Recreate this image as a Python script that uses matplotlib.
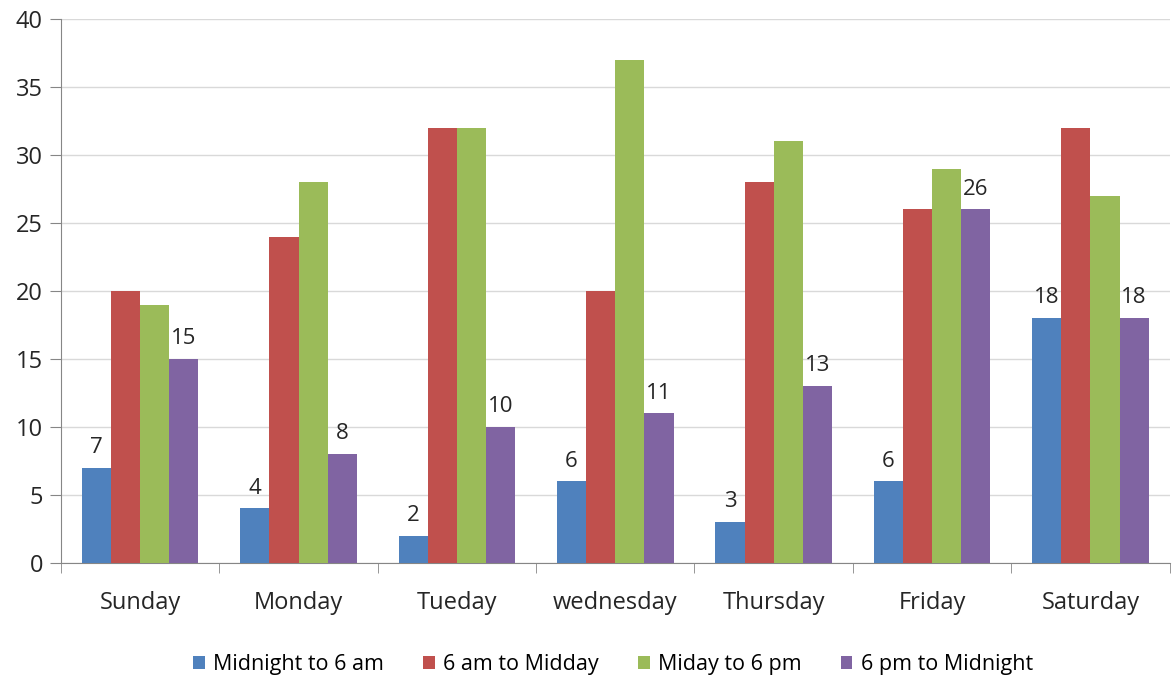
import numpy as np
import matplotlib.pyplot as plt

plt.rcParams['font.family'] = ['Open Sans', 'DejaVu Sans']

days = ['Sunday', 'Monday', 'Tueday', 'wednesday', 'Thursday', 'Friday', 'Saturday']
series_names = ['Midnight to 6 am', '6 am to Midday', 'Miday to 6 pm', '6 pm to Midnight']
midnight_6am = [7, 4, 2, 6, 3, 6, 18]
am6_midday = [20, 24, 32, 20, 28, 26, 32]
midday_6pm = [19, 28, 32, 37, 31, 29, 27]
pm6_midnight = [15, 8, 10, 11, 13, 26, 18]
colors = ['#4F81BD', '#C0504D', '#9BBB59', '#8064A2']

series = [midnight_6am, am6_midday, midday_6pm, pm6_midnight]
labelled = [True, False, False, True]

fig = plt.figure(figsize=(11.72, 6.83), dpi=100)
ax = fig.add_axes([0.052, 0.176, 0.946, 0.796])

x = np.arange(len(days))
w = 0.184
for i, vals in enumerate(series):
    pos = x + (i - 1.5) * w
    bars = ax.bar(pos, vals, w, color=colors[i], label=series_names[i], zorder=3)
    if labelled[i]:
        ax.bar_label(bars, padding=7, fontsize=16, color='#262626')

ax.set_xlim(-0.5, len(days) - 0.5)
ax.set_ylim(0, 40)
ax.set_yticks(range(0, 41, 5))
ax.set_xticks(x)
ax.set_xticklabels(days)
ax.set_xticks(np.arange(-0.5, len(days) + 0.5, 1), minor=True)
ax.tick_params(axis='x', which='major', length=0, pad=20, labelsize=17, labelcolor='#262626')
ax.tick_params(axis='x', which='minor', length=7, color='#868686', direction='out')
ax.tick_params(axis='y', length=8, color='#868686', pad=5, labelsize=17, labelcolor='#262626')
ax.grid(axis='y', color='#D9D9D9', linewidth=1, zorder=0)
for s in ['top', 'right']:
    ax.spines[s].set_visible(False)
for s in ['left', 'bottom']:
    ax.spines[s].set_color('#868686')

fig.legend(loc='lower center', bbox_to_anchor=(0.523, -0.017), ncol=4, frameon=False,
           fontsize=15.5, handlelength=0.55, handleheight=0.55, handletextpad=0.4,
           columnspacing=1.8)

fig.savefig('out.png', dpi=100)
